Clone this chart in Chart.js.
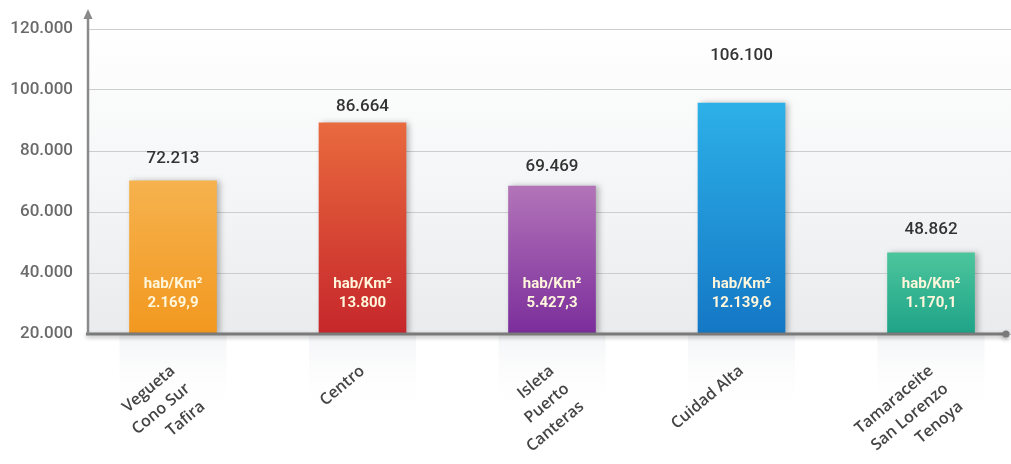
<!DOCTYPE html>
<html>
<head>
<meta charset="utf-8">
<script src="https://cdn.jsdelivr.net/npm/chart.js@4.4.1/dist/chart.umd.min.js"></script>
<style>
  html, body { margin: 0; padding: 0; background: #fff; }
  #wrap { width: 1011px; height: 464px; position: relative; }
</style>
</head>
<body>
<div id="wrap"><canvas id="grafico"></canvas></div>
<script>
const DISTRITOS = [
  ['Vegueta', 'Cono Sur', 'Tafira'],
  'Centro',
  ['Isleta', 'Puerto', 'Canteras'],
  'Cuidad Alta',
  ['Tamaraceite', 'San Lorenzo', 'Tenoya']
];
const POBLACION = [72213, 86664, 69469, 106100, 48862];
// altura de las barras tal como aparecen en el original (no van a escala)
const ALTURAS = [70200, 89200, 68500, 95700, 46600];
const DENSIDAD = ['2.169,9', '13.800', '5.427,3', '12.139,6', '1.170,1'];
const TICKS_Y = [20000, 40000, 60000, 80000, 100000, 120000];

const COLOR_ARRIBA = ['#F6B24E', '#E96A3E', '#B274B8', '#2DB0E8', '#4CC59C'];
const COLOR_ABAJO = ['#F2981F', '#C6262B', '#7B2D9B', '#1477C5', '#1EA388'];

const NUM_FONT = 'Roboto, "DejaVu Sans", sans-serif';

function puntos(n) {
  return String(n).replace(/\B(?=(\d{3})+(?!\d))/g, '.');
}

function degradado(ctx) {
  const chart = ctx.chart;
  const area = chart.chartArea;
  if (!area) return COLOR_ABAJO[ctx.dataIndex];
  const top = chart.scales.y.getPixelForValue(ALTURAS[ctx.dataIndex]);
  const g = chart.ctx.createLinearGradient(0, top, 0, area.bottom);
  g.addColorStop(0, COLOR_ARRIBA[ctx.dataIndex]);
  g.addColorStop(1, COLOR_ABAJO[ctx.dataIndex]);
  return g;
}

const fondo = {
  id: 'fondo',
  beforeDraw(chart) {
    const { ctx, chartArea: a, width, height } = chart;
    ctx.save();
    ctx.fillStyle = '#fff';
    ctx.fillRect(0, 0, width, height);
    const g = ctx.createLinearGradient(0, a.top, 0, a.bottom);
    g.addColorStop(0, '#FFFFFF');
    g.addColorStop(0.5, '#F5F6F7');
    g.addColorStop(1, '#E9EBED');
    ctx.fillStyle = g;
    ctx.fillRect(a.left, a.top - 20, a.right - a.left, a.bottom - a.top + 20);
    // reflejos suaves bajo el eje
    const meta = chart.getDatasetMeta(0);
    meta.data.forEach((bar) => {
      const r = ctx.createLinearGradient(0, a.bottom, 0, a.bottom + 80);
      r.addColorStop(0, 'rgba(230,232,236,0.45)');
      r.addColorStop(1, 'rgba(255,255,255,0)');
      ctx.fillStyle = r;
      ctx.fillRect(bar.x - bar.width / 2 - 10, a.bottom, bar.width + 20, 80);
    });
    ctx.restore();
  },
  beforeDatasetDraw(chart) {
    const ctx = chart.ctx;
    ctx.save();
    ctx.shadowColor = 'rgba(0,0,0,0.28)';
    ctx.shadowBlur = 6;
    ctx.shadowOffsetX = 3;
    ctx.shadowOffsetY = 0;
  },
  afterDatasetDraw(chart) {
    chart.ctx.restore();
  }
};

const ejes = {
  id: 'ejes',
  afterDatasetsDraw(chart) {
    const { ctx, chartArea: a } = chart;
    const y0 = chart.scales.y.getPixelForValue(TICKS_Y[0]);
    ctx.save();
    // eje x
    ctx.shadowColor = 'rgba(0,0,0,0.3)';
    ctx.shadowBlur = 4;
    ctx.shadowOffsetY = 2;
    ctx.strokeStyle = '#7A7A7A';
    ctx.lineWidth = 3;
    ctx.beginPath();
    ctx.moveTo(a.left - 2, y0);
    ctx.lineTo(1006, y0);
    ctx.stroke();
    ctx.fillStyle = '#7A7A7A';
    ctx.beginPath();
    ctx.arc(1006, y0, 3.5, 0, Math.PI * 2);
    ctx.fill();
    ctx.shadowColor = 'transparent';
    // eje y con flecha
    ctx.strokeStyle = '#8A8A8A';
    ctx.lineWidth = 2.5;
    ctx.beginPath();
    ctx.moveTo(a.left, y0);
    ctx.lineTo(a.left, 16);
    ctx.stroke();
    ctx.fillStyle = '#8A8A8A';
    ctx.beginPath();
    ctx.moveTo(a.left, 9);
    ctx.lineTo(a.left - 4.5, 19);
    ctx.lineTo(a.left + 4.5, 19);
    ctx.closePath();
    ctx.fill();
    ctx.restore();
  }
};

const etiquetas = {
  id: 'etiquetas',
  afterDatasetsDraw(chart) {
    const ctx = chart.ctx;
    const y = chart.scales.y;
    const y0 = y.getPixelForValue(TICKS_Y[0]);
    const meta = chart.getDatasetMeta(0);
    ctx.save();
    ctx.textAlign = 'center';
    ctx.textBaseline = 'middle';
    meta.data.forEach((bar, i) => {
      const top = Math.min(bar.y, y.getPixelForValue(POBLACION[i]));
      ctx.fillStyle = '#333333';
      ctx.font = '500 17px ' + NUM_FONT;
      ctx.fillText(puntos(POBLACION[i]), bar.x, top - 16);
      ctx.fillStyle = '#FFF6DC';
      ctx.font = 'bold 15px ' + NUM_FONT;
      ctx.fillText('hab/Km²', bar.x, y0 - 50);
      ctx.fillText(DENSIDAD[i], bar.x, y0 - 31);
    });
    ctx.restore();
  }
};

new Chart(document.getElementById('grafico'), {
  type: 'bar',
  data: {
    datasets: [{
      label: 'Población',
      data: ALTURAS.map((v, i) => ({ x: i, y: v })),
      base: TICKS_Y[0],
      backgroundColor: degradado,
      borderWidth: 0,
      barThickness: 87
    }]
  },
  plugins: [fondo, ejes, etiquetas],
  options: {
    responsive: true,
    maintainAspectRatio: false,
    animation: false,
    layout: { padding: { top: 29, right: 0, left: 0, bottom: 0 } },
    plugins: {
      legend: { display: false },
      tooltip: { enabled: false }
    },
    scales: {
      x: {
        type: 'linear',
        min: -0.4485,
        max: 4.422,
        offset: false,
        grid: { display: false },
        border: { display: false },
        afterBuildTicks: (s) => { s.ticks = DISTRITOS.map((d, i) => ({ value: i })); },
        afterFit: (s) => { s.height = 130; },
        ticks: {
          autoSkip: false,
          minRotation: 40,
          maxRotation: 40,
          padding: 18,
          color: '#444444',
          font: { family: '"Open Sans", sans-serif', size: 16, weight: '600', lineHeight: 1.45 },
          callback: (v) => DISTRITOS[v]
        }
      },
      y: {
        min: TICKS_Y[0],
        max: TICKS_Y[TICKS_Y.length - 1],
        grid: { color: '#CDCDCD', lineWidth: 1, drawTicks: false },
        border: { display: false },
        afterBuildTicks: (s) => { s.ticks = TICKS_Y.map((v) => ({ value: v })); },
        afterFit: (s) => { s.width = 88; },
        ticks: {
          padding: 15,
          color: '#6A6A6A',
          font: { family: NUM_FONT, size: 17, weight: '500' },
          callback: (v) => puntos(v)
        }
      }
    }
  }
});
</script>
</body>
</html>
